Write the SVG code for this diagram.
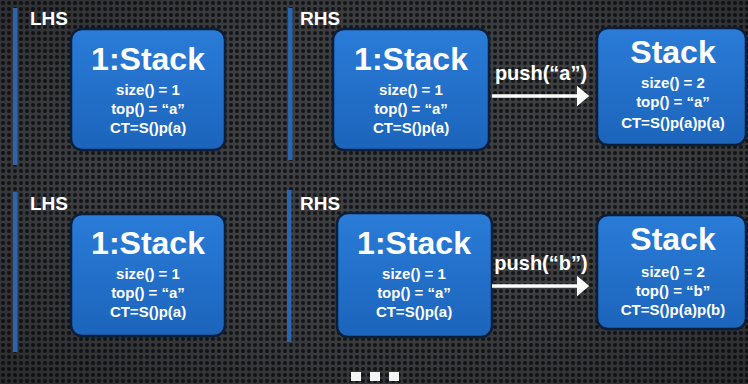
<svg xmlns="http://www.w3.org/2000/svg" width="748" height="384" viewBox="0 0 748 384">
<style>
.lbl{font-family:"Liberation Sans",Arial,sans-serif;font-weight:bold;fill:#ffffff;font-size:19px}
.title{font-family:"Liberation Sans",Arial,sans-serif;font-weight:bold;fill:#ffffff;font-size:32px;text-anchor:middle}
.line{font-family:"Liberation Sans",Arial,sans-serif;font-weight:bold;fill:#ffffff;font-size:15px;text-anchor:middle}
.op{font-family:"Liberation Sans",Arial,sans-serif;font-weight:bold;fill:#ffffff;font-size:20px;text-anchor:middle}
.box{fill:url(#boxg);stroke:#0b1f3a;stroke-width:2.5}
.bar{fill:#2a66b0}
.conn{stroke:#ffffff;stroke-width:3.5;fill:none}
.dot{fill:#f4f4f4}
</style>
<defs>
<pattern id="perf" width="6" height="6" patternUnits="userSpaceOnUse">
<rect width="6" height="6" fill="#3c3e42"/>
<circle cx="3" cy="3" r="2" fill="#141516"/>
</pattern>
<linearGradient id="boxg" x1="0" y1="0" x2="0" y2="1">
<stop offset="0" stop-color="#2a7cd8"/>
<stop offset="1" stop-color="#1c64bb"/>
</linearGradient>
<radialGradient id="vig" cx="0.5" cy="0.45" r="0.75">
<stop offset="0.5" stop-color="#000" stop-opacity="0"/>
<stop offset="1" stop-color="#000" stop-opacity="0.3"/>
</radialGradient>
<marker id="ah" markerWidth="6" markerHeight="6" refX="2.4" refY="3" orient="auto" markerUnits="strokeWidth">
<path d="M0,0 L3.6,3 L0,6 Z" fill="#ffffff"/>
</marker>
</defs>
<rect width="748" height="384" fill="url(#perf)"/>
<rect width="748" height="384" fill="url(#vig)"/>

<g id="lhs1">
<rect class="bar" x="13" y="8" width="4.5" height="157"/>
<text class="lbl" x="30" y="25">LHS</text>
</g>
<g id="rhs1">
<rect class="bar" x="288" y="8" width="4.5" height="152"/>
<text class="lbl" x="300" y="25">RHS</text>
</g>
<g id="lhs2">
<rect class="bar" x="13" y="192" width="4.5" height="160"/>
<text class="lbl" x="30" y="210">LHS</text>
</g>
<g id="rhs2">
<rect class="bar" x="287" y="190" width="4.5" height="152"/>
<text class="lbl" x="300" y="210">RHS</text>
</g>

<g id="stack_lhs1">
<rect class="box" x="71" y="29" width="154" height="121" rx="11"/>
<text class="title" x="148" y="70">1:Stack</text>
<text class="line" x="148" y="95">size() = 1</text>
<text class="line" x="148" y="114">top() = “a”</text>
<text class="line" x="148" y="133">CT=S()p(a)</text>
</g>
<g id="stack_rhs1">
<rect class="box" x="333" y="29" width="156" height="121" rx="11"/>
<text class="title" x="411" y="70">1:Stack</text>
<text class="line" x="411" y="95">size() = 1</text>
<text class="line" x="411" y="114">top() = “a”</text>
<text class="line" x="411" y="133">CT=S()p(a)</text>
</g>
<g id="stack_res1">
<rect class="box" x="597" y="28" width="149" height="117" rx="11"/>
<text class="title" x="673" y="63">Stack</text>
<text class="line" x="673" y="88">size() = 2</text>
<text class="line" x="673" y="107">top() = “a”</text>
<text class="line" x="673" y="128">CT=S()p(a)p(a)</text>
</g>

<g id="stack_lhs2">
<rect class="box" x="71" y="214" width="154" height="122" rx="11"/>
<text class="title" x="148" y="254">1:Stack</text>
<text class="line" x="148" y="279">size() = 1</text>
<text class="line" x="148" y="298">top() = “a”</text>
<text class="line" x="148" y="317">CT=S()p(a)</text>
</g>
<g id="stack_rhs2">
<rect class="box" x="337" y="213" width="155" height="124" rx="11"/>
<text class="title" x="414" y="254">1:Stack</text>
<text class="line" x="414" y="279">size() = 1</text>
<text class="line" x="414" y="298">top() = “a”</text>
<text class="line" x="414" y="317">CT=S()p(a)</text>
</g>
<g id="stack_res2">
<rect class="box" x="597" y="215" width="149" height="114" rx="11"/>
<text class="title" x="673" y="250">Stack</text>
<text class="line" x="673" y="277">size() = 2</text>
<text class="line" x="673" y="296">top() = “b”</text>
<text class="line" x="673" y="315">CT=S()p(a)p(b)</text>
</g>

<g id="connectors">
<line class="conn" x1="492" y1="96" x2="585" y2="96" marker-end="url(#ah)"/>
<text class="op" x="541" y="80">push(“a”)</text>
<line class="conn" x1="492" y1="286" x2="585" y2="286" marker-end="url(#ah)"/>
<text class="op" x="541" y="270">push(“b”)</text>
</g>

<g id="ellipsis">
<rect class="dot" x="351" y="372" width="10" height="9"/>
<rect class="dot" x="370" y="372" width="10" height="9"/>
<rect class="dot" x="389" y="372" width="10" height="9"/>
</g>
</svg>
